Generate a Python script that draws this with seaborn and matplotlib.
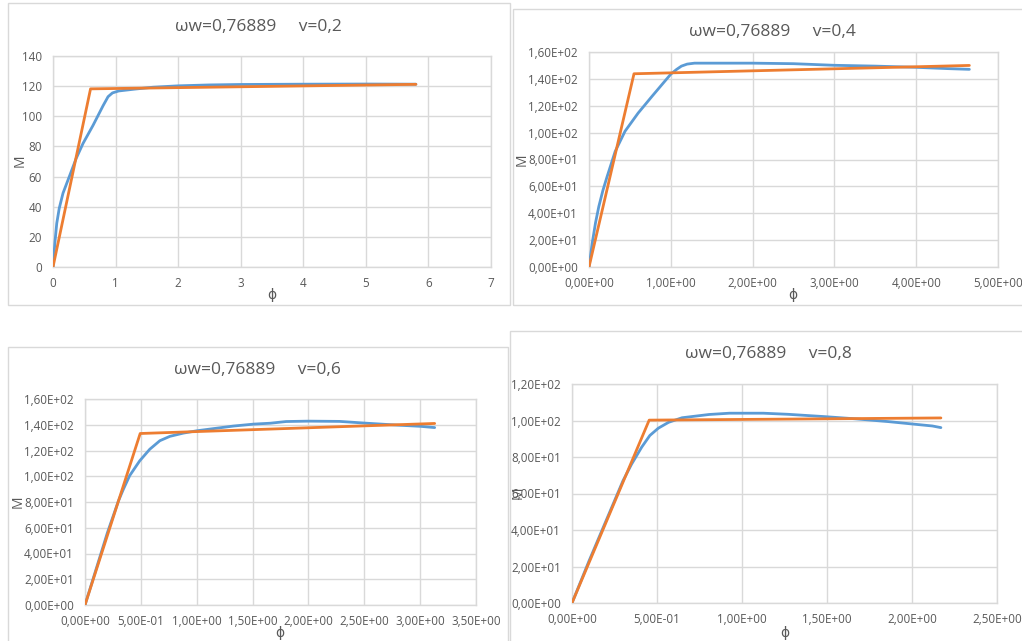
import matplotlib
matplotlib.use("Agg")
import matplotlib.pyplot as plt
from matplotlib.patches import Rectangle
import pandas as pd
import seaborn as sns

W, H = 1022, 641

TITLE_PREFIX = "ωw=0,76889"
nu_values = ["0,2", "0,4", "0,6", "0,8"]

# ---- v = 0,2 ----
phi_02 = [0, 0.03, 0.06, 0.10, 0.16, 0.27, 0.37, 0.48, 0.64, 0.80, 0.88, 0.95, 1.05,
          1.3, 1.6, 2.0, 2.5, 3.0, 4.0, 5.0, 5.8]
M_02 = [0, 16, 29, 39, 49, 61, 72, 82, 94, 107, 113, 115.5, 116.8,
        118.0, 119.3, 120.2, 120.8, 121.1, 121.3, 121.4, 121.3]
phi_02_bil = [0, 0.6, 5.8]
M_02_bil = [0, 118.2, 121.2]

# ---- v = 0,4 ----
phi_04 = [0, 0.04, 0.08, 0.12, 0.17, 0.22, 0.32, 0.44, 0.60, 0.77, 0.93, 1.0, 1.07,
          1.13, 1.2, 1.29, 1.5, 2.0, 2.5, 3.0, 3.5, 4.0, 4.4, 4.65]
M_04 = [0, 18, 33, 45, 57, 67, 86, 101, 114.5, 127, 138.5, 143.5, 147,
        149.5, 151, 151.7, 151.7, 151.7, 151.3, 150.1, 149.5, 148.6, 147.6, 147.1]
phi_04_bil = [0, 0.55, 4.65]
M_04_bil = [0, 143.8, 150]

# ---- v = 0,6 ----
phi_06 = [0, 0.10, 0.20, 0.30, 0.344, 0.40, 0.49, 0.58, 0.67, 0.76, 0.88, 1.0, 1.15,
          1.33, 1.51, 1.66, 1.8, 2.0, 2.28, 2.52, 2.82, 3.0, 3.13]
M_06 = [0, 28, 56, 81, 90, 100.5, 112, 121, 127.6, 131, 133.5, 135.3, 137,
        139, 140.5, 141.2, 142.5, 142.8, 142.6, 141.2, 139.6, 138.8, 137.8]
phi_06_bil = [0, 0.494, 3.13]
M_06_bil = [0, 133.2, 141]

# ---- v = 0,8 ----
phi_08 = [0, 0.10, 0.20, 0.30, 0.35, 0.41, 0.458, 0.508, 0.568, 0.647, 0.807, 0.926,
          1.125, 1.27, 1.49, 1.67, 1.86, 2.0, 2.12, 2.17]
M_08 = [0, 23, 45, 67, 76, 85.4, 91.8, 95.8, 99, 101.5, 103.3, 104,
        104, 103.4, 102.1, 100.9, 99.4, 98.1, 97, 96.1]
phi_08_bil = [0, 0.454, 2.17]
M_08_bil = [0, 100.2, 101.4]

# ---- axis ticks ----
xt_02 = [0, 1, 2, 3, 4, 5, 6, 7]
xl_02 = ["0", "1", "2", "3", "4", "5", "6", "7"]
yt_02 = [0, 20, 40, 60, 80, 100, 120, 140]
yl_02 = ["0", "20", "40", "60", "80", "100", "120", "140"]

xt_04 = [0, 1, 2, 3, 4, 5]
xl_04 = ["0,00E+00", "1,00E+00", "2,00E+00", "3,00E+00", "4,00E+00", "5,00E+00"]
yt_160 = [0, 20, 40, 60, 80, 100, 120, 140, 160]
yl_160 = ["0,00E+00", "2,00E+01", "4,00E+01", "6,00E+01", "8,00E+01",
          "1,00E+02", "1,20E+02", "1,40E+02", "1,60E+02"]

xt_06 = [0, 0.5, 1, 1.5, 2, 2.5, 3, 3.5]
xl_06 = ["0,00E+00", "5,00E-01", "1,00E+00", "1,50E+00", "2,00E+00",
         "2,50E+00", "3,00E+00", "3,50E+00"]

xt_08 = [0, 0.5, 1, 1.5, 2, 2.5]
xl_08 = ["0,00E+00", "5,00E-01", "1,00E+00", "1,50E+00", "2,00E+00", "2,50E+00"]
yt_120 = [0, 20, 40, 60, 80, 100, 120]
yl_120 = ["0,00E+00", "2,00E+01", "4,00E+01", "6,00E+01", "8,00E+01", "1,00E+02", "1,20E+02"]

BLUE = "#5B9BD5"
ORANGE = "#ED7D31"
GRID = "#D9D9D9"
TEXT = "#595959"

sns.set_theme(style="white")
plt.rcParams["font.family"] = ["Open Sans", "DejaVu Sans"]

fig = plt.figure(figsize=(W / 100, H / 100), dpi=100)
fig.patch.set_facecolor("white")


def fx(x):
    return x / W


def fy(y):
    return 1 - y / H


# panel layout in pixels: frame box, plot box, title / label anchors
panels = [
    dict(nu=nu_values[0], phi=phi_02, M=M_02, pb=phi_02_bil, mb=M_02_bil,
         xt=xt_02, xl=xl_02, yt=yt_02, yl=yl_02,
         frame=(8, 3, 510, 305), plot=(53, 56, 491, 267),
         title=(258, 27), xlab=(272, 296), ylab=(20, 161)),
    dict(nu=nu_values[1], phi=phi_04, M=M_04, pb=phi_04_bil, mb=M_04_bil,
         xt=xt_04, xl=xl_04, yt=yt_160, yl=yl_160,
         frame=(513, 9, 1030, 305), plot=(589, 52, 998, 267),
         title=(772, 32), xlab=(793, 296), ylab=(522, 160)),
    dict(nu=nu_values[2], phi=phi_06, M=M_06, pb=phi_06_bil, mb=M_06_bil,
         xt=xt_06, xl=xl_06, yt=yt_160, yl=yl_160,
         frame=(8, 347, 508, 660), plot=(85, 399, 476, 605),
         title=(257, 370), xlab=(280, 633), ylab=(18, 502)),
    dict(nu=nu_values[3], phi=phi_08, M=M_08, pb=phi_08_bil, mb=M_08_bil,
         xt=xt_08, xl=xl_08, yt=yt_120, yl=yl_120,
         frame=(510, 331, 1030, 660), plot=(572, 384, 997, 603),
         title=(768, 354), xlab=(785, 633), ylab=(518, 493)),
]

for p in panels:
    # chart-area border
    fl, ft, fr, fb = p["frame"]
    fig.patches.append(Rectangle((fx(fl), fy(fb)), (fr - fl) / W, (fb - ft) / H,
                                 transform=fig.transFigure, fill=False,
                                 edgecolor=GRID, linewidth=1.0, zorder=0))

    l, t, r, b = p["plot"]
    ax = fig.add_axes([fx(l), fy(b), (r - l) / W, (b - t) / H])
    ax.set_facecolor("white")

    df = pd.concat([
        pd.DataFrame({"phi": p["phi"], "M": p["M"], "curve": "M-phi"}),
        pd.DataFrame({"phi": p["pb"], "M": p["mb"], "curve": "bilinear"}),
    ], ignore_index=True)
    sns.lineplot(data=df, x="phi", y="M", hue="curve",
                 palette={"M-phi": BLUE, "bilinear": ORANGE},
                 sort=False, estimator=None, legend=False,
                 linewidth=2.0, ax=ax, zorder=3)

    ax.set_xlim(p["xt"][0], p["xt"][-1])
    ax.set_ylim(p["yt"][0], p["yt"][-1])
    ax.set_xticks(p["xt"])
    ax.set_xticklabels(p["xl"])
    ax.set_yticks(p["yt"])
    ax.set_yticklabels(p["yl"])
    ax.tick_params(axis="both", length=0, labelsize=8.4, colors=TEXT)
    ax.tick_params(axis="x", pad=7)
    ax.tick_params(axis="y", pad=8)
    ax.grid(True, color=GRID, linewidth=1.0)
    for s in ax.spines.values():
        s.set_color(GRID)
        s.set_linewidth(1.0)
    ax.set_xlabel("")
    ax.set_ylabel("")

    fig.text(fx(p["title"][0]), fy(p["title"][1]),
             f"{TITLE_PREFIX}     v={p['nu']}",
             ha="center", va="center", fontsize=12.5, color=TEXT)
    fig.text(fx(p["xlab"][0]), fy(p["xlab"][1]), "ϕ",
             ha="center", va="center", fontsize=10, color=TEXT)
    fig.text(fx(p["ylab"][0]), fy(p["ylab"][1]), "M",
             ha="center", va="center", fontsize=10, color=TEXT, rotation=90)

fig.savefig("out.png", dpi=100, facecolor="white")
